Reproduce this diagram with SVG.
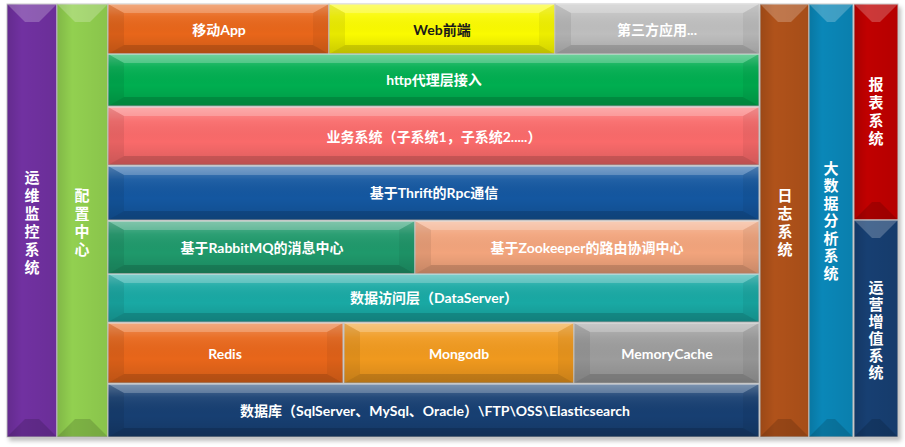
<svg xmlns="http://www.w3.org/2000/svg" width="905" height="447" viewBox="0 0 905 447">
<defs>
<linearGradient id="sh" x1="0" y1="0" x2="0" y2="1">
<stop offset="0" stop-color="#fff" stop-opacity="0.28"/>
<stop offset="0.25" stop-color="#fff" stop-opacity="0.06"/>
<stop offset="0.6" stop-color="#000" stop-opacity="0"/>
<stop offset="1" stop-color="#000" stop-opacity="0.12"/>
</linearGradient>
<linearGradient id="shv" x1="0" y1="0" x2="1" y2="0">
<stop offset="0" stop-color="#000" stop-opacity="0.12"/>
<stop offset="0.3" stop-color="#000" stop-opacity="0"/>
<stop offset="1" stop-color="#000" stop-opacity="0.06"/>
</linearGradient>
<filter id="blur" x="-5%" y="-5%" width="110%" height="110%"><feGaussianBlur stdDeviation="2"/></filter>
</defs>
<style>
.bx{stroke:#c9c9c9;stroke-width:1}
.ov{fill:url(#sh)}
.ovv{fill:url(#shv)}
.ft{fill:#fff;fill-opacity:0.22}
.fb{fill:#000;fill-opacity:0.14}
.fl{fill:#000;fill-opacity:0.07}
.fr{fill:#000;fill-opacity:0.05}
.t{font-family:Lato,"Noto Sans CJK SC",sans-serif;font-weight:bold;font-size:14px;fill:#fff;text-anchor:middle}
.v{font-family:"Noto Sans CJK SC",sans-serif;font-weight:bold;font-size:15px;fill:#fff;text-anchor:middle;writing-mode:vertical-rl;letter-spacing:3px}
</style>
<rect x="9" y="7" width="892" height="434" fill="#000" fill-opacity="0.25" filter="url(#blur)"/>

<g id="ops-monitor">
<rect class="bx" x="7" y="4" width="50" height="433" fill="#7131A1"/>
<rect x="7" y="4" width="50" height="433" class="ovv"/>
<polygon class="ft" points="7,4 57,4 39,22 25,22"/>
<polygon class="fb" points="7,437 57,437 39,419 25,419"/>
<text class="v" x="32" y="224">运维监控系统</text>
</g>

<g id="config-center">
<rect class="bx" x="57" y="4" width="51" height="433" fill="#92D050"/>
<rect x="57" y="4" width="51" height="433" class="ovv"/>
<polygon class="ft" points="57,4 108,4 90,22 75,22"/>
<polygon class="fb" points="57,437 108,437 90,419 75,419"/>
<text class="v" x="82" y="224">配置中心</text>
</g>

<g id="mobile-app">
<rect class="bx" x="108" y="4" width="221" height="50" fill="#E8661A"/>
<rect x="108" y="4" width="221" height="50" class="ov"/>
<polygon class="ft" points="108,4 329,4 313,13 124,13"/>
<polygon class="fb" points="108,54 329,54 313,45 124,45"/>
<polygon class="fl" points="108,4 124,13 124,45 108,54"/>
<polygon class="fr" points="329,4 313,13 313,45 329,54"/>
<text class="t" x="219" y="35">移动App</text>
</g>

<g id="web-frontend">
<rect class="bx" x="329" y="4" width="226" height="50" fill="#FAFA00"/>
<rect x="329" y="4" width="226" height="50" class="ov"/>
<polygon class="ft" points="329,4 555,4 539,13 345,13"/>
<polygon class="fb" points="329,54 555,54 539,45 345,45"/>
<polygon class="fl" points="329,4 345,13 345,45 329,54"/>
<polygon class="fr" points="555,4 539,13 539,45 555,54"/>
<text class="t" x="442" y="35" style="fill:#1a1a1a">Web前端</text>
</g>

<g id="third-party">
<rect class="bx" x="555" y="4" width="204" height="50" fill="#BEBEBE"/>
<rect x="555" y="4" width="204" height="50" class="ov"/>
<polygon class="ft" points="555,4 759,4 743,13 571,13"/>
<polygon class="fb" points="555,54 759,54 743,45 571,45"/>
<polygon class="fl" points="555,4 571,13 571,45 555,54"/>
<polygon class="fr" points="759,4 743,13 743,45 759,54"/>
<text class="t" x="657" y="35">第三方应用...</text>
</g>

<g id="http-proxy">
<rect class="bx" x="108" y="54" width="651" height="52" fill="#00AE50"/>
<rect x="108" y="54" width="651" height="52" class="ov"/>
<polygon class="ft" points="108,54 759,54 743,63 124,63"/>
<polygon class="fb" points="108,106 759,106 743,97 124,97"/>
<polygon class="fl" points="108,54 124,63 124,97 108,106"/>
<polygon class="fr" points="759,54 743,63 743,97 759,106"/>
<text class="t" x="434" y="85">http代理层接入</text>
</g>

<g id="business">
<rect class="bx" x="108" y="107" width="651" height="58" fill="#F96A6A"/>
<rect x="108" y="107" width="651" height="58" class="ov"/>
<polygon class="ft" points="108,107 759,107 743,116 124,116"/>
<polygon class="fb" points="108,165 759,165 743,156 124,156"/>
<polygon class="fl" points="108,107 124,116 124,156 108,165"/>
<polygon class="fr" points="759,107 743,116 743,156 759,165"/>
<text class="t" x="434" y="142">业务系统（子系统1，子系统2.....）</text>
</g>

<g id="thrift-rpc">
<rect class="bx" x="108" y="166" width="651" height="54" fill="#1457A0"/>
<rect x="108" y="166" width="651" height="54" class="ov"/>
<polygon class="ft" points="108,166 759,166 743,175 124,175"/>
<polygon class="fb" points="108,220 759,220 743,211 124,211"/>
<polygon class="fl" points="108,166 124,175 124,211 108,220"/>
<polygon class="fr" points="759,166 743,175 743,211 759,220"/>
<text class="t" x="434" y="198">基于Thrift的Rpc通信</text>
</g>

<g id="rabbitmq">
<rect class="bx" x="108" y="221" width="307" height="53" fill="#1F996B"/>
<rect x="108" y="221" width="307" height="53" class="ov"/>
<polygon class="ft" points="108,221 415,221 399,230 124,230"/>
<polygon class="fb" points="108,274 415,274 399,265 124,265"/>
<polygon class="fl" points="108,221 124,230 124,265 108,274"/>
<polygon class="fr" points="415,221 399,230 399,265 415,274"/>
<text class="t" x="262" y="253">基于RabbitMQ的消息中心</text>
</g>

<g id="zookeeper">
<rect class="bx" x="415" y="221" width="344" height="53" fill="#F2A47C"/>
<rect x="415" y="221" width="344" height="53" class="ov"/>
<polygon class="ft" points="415,221 759,221 743,230 431,230"/>
<polygon class="fb" points="415,274 759,274 743,265 431,265"/>
<polygon class="fl" points="415,221 431,230 431,265 415,274"/>
<polygon class="fr" points="759,221 743,230 743,265 759,274"/>
<text class="t" x="587" y="253">基于Zookeeper的路由协调中心</text>
</g>

<g id="data-server">
<rect class="bx" x="108" y="274" width="651" height="48" fill="#19A9A4"/>
<rect x="108" y="274" width="651" height="48" class="ov"/>
<polygon class="ft" points="108,274 759,274 743,283 124,283"/>
<polygon class="fb" points="108,322 759,322 743,313 124,313"/>
<polygon class="fl" points="108,274 124,283 124,313 108,322"/>
<polygon class="fr" points="759,274 743,283 743,313 759,322"/>
<text class="t" x="434" y="303">数据访问层（DataServer）</text>
</g>

<g id="redis">
<rect class="bx" x="108" y="323" width="235" height="60" fill="#E8661A"/>
<rect x="108" y="323" width="235" height="60" class="ov"/>
<polygon class="ft" points="108,323 343,323 327,332 124,332"/>
<polygon class="fb" points="108,383 343,383 327,374 124,374"/>
<polygon class="fl" points="108,323 124,332 124,374 108,383"/>
<polygon class="fr" points="343,323 327,332 327,374 343,383"/>
<text class="t" x="225" y="359">Redis</text>
</g>

<g id="mongodb">
<rect class="bx" x="344" y="323" width="230" height="60" fill="#F0991E"/>
<rect x="344" y="323" width="230" height="60" class="ov"/>
<polygon class="ft" points="344,323 574,323 558,332 360,332"/>
<polygon class="fb" points="344,383 574,383 558,374 360,374"/>
<polygon class="fl" points="344,323 360,332 360,374 344,383"/>
<polygon class="fr" points="574,323 558,332 558,374 574,383"/>
<text class="t" x="459" y="359">Mongodb</text>
</g>

<g id="memory-cache">
<rect class="bx" x="574" y="323" width="185" height="60" fill="#9C9C9C"/>
<rect x="574" y="323" width="185" height="60" class="ov"/>
<polygon class="ft" points="574,323 759,323 743,332 590,332"/>
<polygon class="fb" points="574,383 759,383 743,374 590,374"/>
<polygon class="fl" points="574,323 590,332 590,374 574,383"/>
<polygon class="fr" points="759,323 743,332 743,374 759,383"/>
<text class="t" x="667" y="359">MemoryCache</text>
</g>

<g id="database">
<rect class="bx" x="108" y="384" width="651" height="53" fill="#173F72"/>
<rect x="108" y="384" width="651" height="53" class="ov"/>
<polygon class="ft" points="108,384 759,384 743,393 124,393"/>
<polygon class="fb" points="108,437 759,437 743,428 124,428"/>
<polygon class="fl" points="108,384 124,393 124,428 108,437"/>
<polygon class="fr" points="759,384 743,393 743,428 759,437"/>
<text class="t" x="435" y="416">数据库（SqlServer、MySql、Oracle）\FTP\OSS\Elasticsearch</text>
</g>

<g id="log-system">
<rect class="bx" x="760" y="4" width="49" height="433" fill="#B0521A"/>
<rect x="760" y="4" width="49" height="433" class="ovv"/>
<polygon class="ft" points="760,4 809,4 791,22 778,22"/>
<polygon class="fb" points="760,437 809,437 791,419 778,419"/>
<text class="v" x="785" y="224">日志系统</text>
</g>

<g id="big-data">
<rect class="bx" x="809" y="4" width="44" height="433" fill="#0A87B8"/>
<rect x="809" y="4" width="44" height="433" class="ovv"/>
<polygon class="ft" points="809,4 853,4 835,22 827,22"/>
<polygon class="fb" points="809,437 853,437 835,419 827,419"/>
<text class="v" x="831" y="222" style="letter-spacing:2.5px">大数据分析系统</text>
</g>

<g id="report-system">
<rect class="bx" x="854" y="4" width="44" height="216" fill="#C00000"/>
<rect x="854" y="4" width="44" height="216" class="ovv"/>
<polygon class="ft" points="854,4 898,4 880,22 872,22"/>
<polygon class="fb" points="854,220 898,220 880,202 872,202"/>
<text class="v" x="876" y="113">报表系统</text>
</g>

<g id="ops-value-added">
<rect class="bx" x="854" y="220" width="44" height="217" fill="#173F72"/>
<rect x="854" y="220" width="44" height="217" class="ovv"/>
<polygon class="ft" points="854,220 898,220 880,238 872,238"/>
<polygon class="fb" points="854,437 898,437 880,419 872,419"/>
<text class="v" x="876" y="331" style="letter-spacing:2px">运营增值系统</text>
</g>

<g id="connectors"></g>
</svg>
